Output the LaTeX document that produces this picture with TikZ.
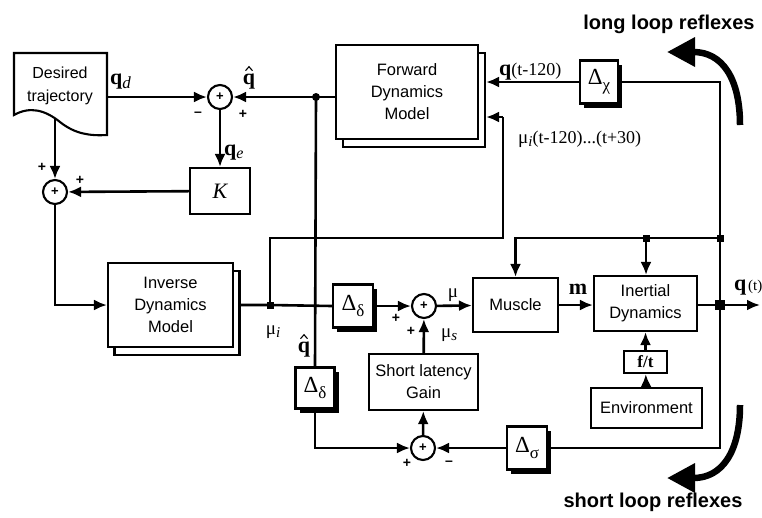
\documentclass[tikz,border=0pt]{standalone}
\usepackage{fontspec}
\setmainfont{Liberation Serif}
\setsansfont{Liberation Sans}
\usetikzlibrary{arrows.meta,shadows,calc}
\begin{document}
\begin{tikzpicture}[x=1pt,y=-1pt,
 ln/.style={line width=2.6pt},
 ar/.style={ln,-{Latex[length=13pt,width=11pt]}},
 blk/.style={draw,line width=2.1pt,fill=white,inner sep=0pt,font=\sffamily\fontsize{16.5}{22}\selectfont,align=center},
 dbox/.style={blk,font=\fontsize{23}{23}\selectfont,drop shadow={shadow xshift=4pt,shadow yshift=-4pt,opacity=1,fill=black}},
 sumn/.style={circle,draw,line width=2.1pt,fill=white,minimum size=24pt,inner sep=0pt,font=\sffamily\bfseries\fontsize{13}{13}\selectfont},
 sgn/.style={font=\sffamily\bfseries\fontsize{14}{14}\selectfont,inner sep=0pt},
 lbl/.style={inner sep=0pt,font=\fontsize{19}{19}\selectfont},
 bq/.style={inner sep=0pt,font=\fontsize{22}{22}\selectfont},
 hatln/.style={line width=1.1pt,line join=miter},
 dot/.style={fill,inner sep=0pt,minimum size=7pt},
 rdot/.style={circle,fill,inner sep=0pt,minimum size=8pt},
 bigar/.style={line width=6.5pt,-{Triangle[length=28pt,width=28pt]}},
 ttl/.style={inner sep=0pt,font=\sffamily\bfseries\fontsize{20}{20}\selectfont}
 ]
\useasboundingbox[fill=white] (0,0) rectangle (762,517);

% desired trajectory document
\draw[line width=2.1pt,fill=white] (14,53) -- (107,53) -- (107,135) .. controls (90,136) and (75,134) .. (60,122) .. controls (45,110) and (30,106) .. (14,115) -- cycle;
\node[inner sep=0pt,font=\sffamily\fontsize{16}{23}\selectfont,align=center] (doc) at (60,86) {Desired\\trajectory};
\coordinate (docR) at (107,97);
\coordinate (docB) at (55,119);

% sums
\node[sumn] (s1) at (220,97) {+};
\node[sumn] (s2) at (55,192) {+};
\node[sumn] (s3) at (424,306) {+};
\node[sumn] (s4) at (423,448) {+};

% blocks
\node[blk,minimum width=60pt,minimum height=46pt,font=\itshape\fontsize{22}{22}\selectfont] (K) at (220,191) {K};
\node[blk,minimum width=125pt,minimum height=84pt] (invb) at (177,313) {};
\node[blk,minimum width=125pt,minimum height=84pt] (inv) at (170.5,305) {Inverse\\Dynamics\\Model};
\node[blk,minimum width=142pt,minimum height=94pt] (fwdb) at (414,100) {};
\node[blk,minimum width=142pt,minimum height=94pt] (fwd) at (407,92) {Forward\\Dynamics\\Model};
\node[dbox,minimum width=38pt,minimum height=43pt] (dchi) at (599,82) {Δ\raisebox{-6pt}{\fontsize{17}{17}\selectfont χ}};
\node[dbox,minimum width=40pt,minimum height=43pt] (dd1) at (353,306) {Δ\raisebox{-6pt}{\fontsize{17}{17}\selectfont δ}};
\node[dbox,minimum width=39pt,minimum height=41pt] (dd2) at (315,388) {Δ\raisebox{-6pt}{\fontsize{17}{17}\selectfont δ}};
\node[dbox,minimum width=40pt,minimum height=43pt] (dsig) at (527,448) {Δ\raisebox{-6pt}{\fontsize{17}{17}\selectfont σ}};
\node[blk,minimum width=85pt,minimum height=54pt] (mus) at (515.5,305) {Muscle};
\node[blk,minimum width=109pt,minimum height=56pt] (gain) at (423.5,382) {Short latency\\Gain};
\node[blk,minimum width=103pt,minimum height=55pt] (inert) at (645.5,303.5) {Inertial\\Dynamics};
\node[blk,minimum width=43pt,minimum height=22pt,font=\bfseries\fontsize{17}{17}\selectfont] (ft) at (645.5,362) {f/t};
\node[blk,minimum width=111pt,minimum height=40pt] (env) at (646.5,408) {Environment};

% junctions
\node[rdot] (jq) at (316,97) {};
\node[dot] (jmu) at (270,305) {};
\node[dot,minimum size=7pt] (j3) at (720,238) {};
\node[dot,minimum size=7pt] (j4) at (646,238) {};
\node[dot,minimum size=10pt] (jout) at (720,305) {};
\coordinate (qend) at (760,305);
\coordinate (jfwd) at (503,117);

% connectors
\draw[ar] (docR) -- (s1.west);
\draw[ar] (s1) -- (K);
\draw[ar] (K) -- (s2);
\draw[ar] (docB) -- (s2);
\draw[ar] (s2) |- (inv.west);
\draw[ln] (inv.east -| invb.east) -- (jmu.center) -- (dd1.west);
\draw[ar] (dd1) -- (s3);
\draw[ln] (jmu.center) |- (503,238) -- (jfwd);
\draw[ar] (jfwd) -- (jfwd -| fwdb.east);
\draw[ar] (fwd.west |- jq) -- (s1.east);
\draw[ln] (jq.center) -- (dd2.north);
\draw[ar] (dd2.south) |- (s4.west);
\draw[ar] (dsig) -- (s4);
\draw[ar] (s4) -- (gain);
\draw[ar] (gain) -- (s3);
\draw[ar] (s3) -- (mus);
\draw[ar] (mus) -- (inert.west |- mus);
\draw[ar] (inert.east |- jout) -- (qend);
\draw[ln] (jout.center) -- (j3.center);
\draw[ln] (j3.center) -- (j4.center);
\draw[ar] (j4.center) -| (mus.north);
\draw[ar] (j4.center) -- (inert.north -| j4);
\draw[ln] (j3.center) |- (dchi.east);
\draw[ar] (dchi) -- (dchi.west -| fwdb.east);
\draw[ln] (jout.center) |- (dsig.east);
\draw[ar] (env) -- (ft);
\draw[ar] (ft) -- (inert.south -| ft);

% labels
\node[bq,anchor=base west] at (110,84) {\textbf{q}\raisebox{-4pt}{\fontsize{17}{17}\selectfont\itshape d}};
\node[bq,anchor=base] (qh1) at (249,84) {\textbf{q}};
\draw[hatln] ($(qh1.north)+(-3.5,-2.5)$) -- ($(qh1.north)+(0,-6.5)$) -- ($(qh1.north)+(3.5,-2.5)$);
\node[bq,anchor=base west] at (224,155) {\textbf{q}\raisebox{-3pt}{\fontsize{16}{16}\selectfont\itshape e}};
\node[sgn] at (198,114) {--};
\node[sgn] at (243,114) {+};
\node[sgn] at (42,167) {+};
\node[sgn] at (80,180) {+};
\node[lbl,anchor=base] at (273,334) {μ\raisebox{-3pt}{\fontsize{15}{15}\selectfont\itshape i}};
\node[bq,anchor=base] (qh2) at (304,352) {\textbf{q}};
\draw[hatln] ($(qh2.north)+(-3.5,-2.5)$) -- ($(qh2.north)+(0,-6.5)$) -- ($(qh2.north)+(3.5,-2.5)$);
\node[sgn] at (396,318) {+};
\node[sgn] at (411,331) {+};
\node[lbl,anchor=base] at (453,297) {μ};
\node[lbl,anchor=base west] at (441,337) {μ\raisebox{-3pt}{\fontsize{15}{15}\selectfont\itshape s}};
\node[bq,anchor=base] at (578,294) {\textbf{m}};
\node[anchor=base west,inner sep=0pt] at (734,290) {{\fontsize{22}{22}\selectfont\textbf{q}}\,{\fontsize{15}{15}\selectfont(t)}};
\node[sgn] at (407,463) {+};
\node[sgn] at (449,463) {--};
\node[anchor=base west,inner sep=0pt] at (499,75) {{\fontsize{22}{22}\selectfont\textbf{q}}{\fontsize{18}{18}\selectfont(t-120)}};
\node[lbl,anchor=base west] at (518,143) {μ\raisebox{-3pt}{\fontsize{15}{15}\selectfont\itshape i}{\fontsize{18}{18}\selectfont(t-120)...(t+30)}};

% reflex arrows
\node[ttl] (ll) at (669,24) {long loop reflexes};
\node[ttl] (sl) at (653,502) {short loop reflexes};
\coordinate (lla) at (740,125);
\coordinate (llb) at (667,52);
\coordinate (sla) at (740,405);
\coordinate (slb) at (667,478);
\draw[bigar] (lla) .. controls (740,78) and (722,52) .. (llb);
\draw[bigar] (sla) .. controls (740,452) and (722,478) .. (slb);
\end{tikzpicture}
\end{document}
